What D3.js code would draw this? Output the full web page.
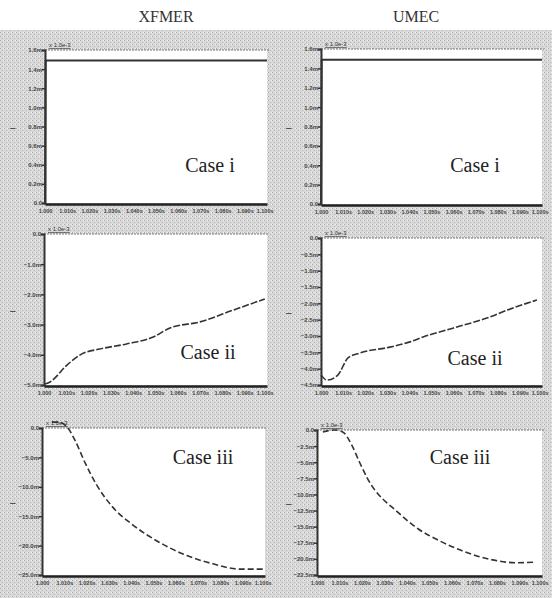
<!DOCTYPE html>
<html><head><meta charset="utf-8">
<script src="https://cdn.jsdelivr.net/npm/d3@7"></script>
<style>
html,body{margin:0;padding:0;background:#fff;}
svg{display:block;}
</style></head>
<body>
<svg id="chart" width="552" height="598"></svg>
<script>
// ---- data ----
const columnTitles = ["XFMER", "UMEC"];
const caseLabels = ["Case i", "Case ii", "Case iii"];
const timeTicks = [1.000, 1.010, 1.020, 1.030, 1.040, 1.050, 1.060, 1.070, 1.080, 1.090, 1.100];
const timeTickLabels = ["1.000", "1.010s", "1.020s", "1.030s", "1.040s", "1.050s", "1.060s", "1.070s", "1.080s", "1.090s", "1.100s"];

// Case i (units: m)
const caseI_xfmer_t = [1.0000, 1.0003, 1.0500, 1.1000];
const caseI_xfmer_v = [0.0, 1.49, 1.49, 1.49];
const caseI_umec_t = [1.0000, 1.0003, 1.0500, 1.1000];
const caseI_umec_v = [0.0, 1.49, 1.49, 1.49];
const caseI_xfmer_ticks = [0.0, 0.2, 0.4, 0.6, 0.8, 1.0, 1.2, 1.4, 1.6];
const caseI_umec_ticks = [0.0, 0.2, 0.4, 0.6, 0.8, 1.0, 1.2, 1.4, 1.6];

// Case ii
const caseII_xfmer_t = [1.0005, 1.0027, 1.0103, 1.0170, 1.0250, 1.0370, 1.0490, 1.0565, 1.0700, 1.0848, 1.0990];
const caseII_xfmer_v = [-4.97, -4.90, -4.34, -3.97, -3.81, -3.64, -3.41, -3.11, -2.91, -2.52, -2.15];
const caseII_umec_t = [1.0000, 1.0027, 1.0077, 1.0122, 1.0176, 1.0312, 1.0403, 1.0462, 1.0597, 1.0751, 1.0869, 1.0977];
const caseII_umec_v = [-4.19, -4.35, -4.19, -3.67, -3.52, -3.34, -3.18, -3.03, -2.76, -2.45, -2.14, -1.90];
const caseII_xfmer_ticks = [0.0, -1.0, -2.0, -3.0, -4.0, -5.0];
const caseII_umec_ticks = [0.0, -0.5, -1.0, -1.5, -2.0, -2.5, -3.0, -3.5, -4.0, -4.5];

// Case iii
const caseIII_xfmer_t = [1.0045, 1.0072, 1.0112, 1.0148, 1.0193, 1.0247, 1.0318, 1.0408, 1.0529, 1.0650, 1.0767, 1.0888, 1.0991];
const caseIII_xfmer_v = [1.0, 1.0, 0.2, -2.1, -5.9, -9.8, -13.5, -16.5, -19.5, -21.7, -23.1, -24.0, -24.0];
const caseIII_umec_t = [1.0026, 1.0079, 1.0114, 1.0154, 1.0189, 1.0224, 1.0364, 1.0452, 1.0539, 1.0658, 1.0772, 1.0890, 1.0969];
const caseIII_umec_v = [-0.3, 0.0, -0.3, -2.3, -5.0, -7.5, -12.9, -15.4, -17.1, -18.9, -20.1, -20.6, -20.5];
const caseIII_xfmer_ticks = [0.0, -5.0, -10.0, -15.0, -20.0, -25.0];
const caseIII_umec_ticks = [0.0, -2.5, -5.0, -7.5, -10.0, -12.5, -15.0, -17.5, -20.0, -22.5];

const scaleNote = "x 1.0e-3";

// ---- layout ----
const panels = [
  {row:0, col:0, t:caseI_xfmer_t, v:caseI_xfmer_v, ticks:caseI_xfmer_ticks, box:[45,50,267,203], label:[210,165], dash:null},
  {row:0, col:1, t:caseI_umec_t, v:caseI_umec_v, ticks:caseI_umec_ticks, box:[321,49,542,204], label:[475,165], dash:null},
  {row:1, col:0, t:caseII_xfmer_t, v:caseII_xfmer_v, ticks:caseII_xfmer_ticks, box:[44,234,267,385], label:[208,352], dash:"7,2"},
  {row:1, col:1, t:caseII_umec_t, v:caseII_umec_v, ticks:caseII_umec_ticks, box:[321,238,542,385], label:[475,358], dash:"7,2"},
  {row:2, col:0, t:caseIII_xfmer_t, v:caseIII_xfmer_v, ticks:caseIII_xfmer_ticks, box:[42,428,265,575], label:[203,457], dash:"6,3"},
  {row:2, col:1, t:caseIII_umec_t, v:caseIII_umec_v, ticks:caseIII_umec_ticks, box:[317,430,542,575], label:[460,457], dash:"6,3"}
];

const svg = d3.select("#chart");
const defs = svg.append("defs");
const pat = defs.append("pattern").attr("id","stip").attr("width",4).attr("height",4).attr("patternUnits","userSpaceOnUse");
pat.append("rect").attr("width",4).attr("height",4).attr("fill","#d9d9d9");
pat.append("rect").attr("x",0).attr("y",0).attr("width",1).attr("height",1).attr("fill","#acacac");
pat.append("rect").attr("x",2).attr("y",2).attr("width",1).attr("height",1).attr("fill","#b8b8b8");
pat.append("rect").attr("x",3).attr("y",0).attr("width",1).attr("height",1).attr("fill","#f0f0f0");

svg.append("rect").attr("x",0).attr("y",30).attr("width",552).attr("height",568).attr("fill","url(#stip)");

// column titles
svg.selectAll("text.coltitle").data(columnTitles).join("text")
  .attr("class","coltitle")
  .attr("x",(d,i)=> i===0 ? 166 : 416)
  .attr("y",22)
  .attr("text-anchor","middle")
  .attr("font-family","'Liberation Serif', 'DejaVu Serif', serif")
  .attr("font-size",16)
  .attr("fill","#333")
  .text(d=>d);

panels.forEach(p=>{
  const [x0,y0,x1,y1] = p.box;
  const x = d3.scaleLinear().domain([1.000,1.100]).range([x0,x1]);
  const ymax = d3.max(p.ticks), ymin = d3.min(p.ticks);
  const y = d3.scaleLinear().domain([ymin,ymax]).range([y1,y0]);
  const g = svg.append("g");

  g.append("rect").attr("x",x0).attr("y",y0).attr("width",x1-x0).attr("height",y1-y0).attr("fill","#fff");
  g.append("line").attr("x1",x0).attr("x2",x1+2).attr("y1",y0).attr("y2",y0)
    .attr("stroke","#777").attr("stroke-width",1).attr("stroke-dasharray","2,1");

  // y axis
  const yAxis = d3.axisLeft(y).tickValues(p.ticks).tickSize(3)
    .tickFormat(d=> d===0 ? "0.0" : d3.format(".1f")(d)+"m");
  const ya = g.append("g").attr("transform",`translate(${x0},0)`).call(yAxis);
  ya.select(".domain").attr("stroke","#333").attr("stroke-width",2);
  ya.selectAll(".tick line").attr("stroke","#333").attr("stroke-width",1.5);
  ya.selectAll(".tick text").attr("font-family","'Liberation Sans', Arial, sans-serif")
    .attr("font-size",6).attr("font-weight","bold").attr("fill","#444").attr("x",-3);

  // x axis
  const xAxis = d3.axisBottom(x).tickValues(timeTicks).tickSize(0)
    .tickFormat((d,i)=> timeTickLabels[i]);
  const xa = g.append("g").attr("transform",`translate(0,${y1+1})`).call(xAxis);
  xa.select(".domain").attr("stroke","#222").attr("stroke-width",2.5);
  xa.selectAll(".tick text").attr("font-family","'Liberation Sans', Arial, sans-serif")
    .attr("font-size",5.5).attr("font-weight","bold").attr("fill","#444").attr("dy","1.1em")
    .attr("text-anchor",(d,i)=> i===timeTicks.length-1 ? "end" : "middle")
    .attr("dx",(d,i)=> i===timeTicks.length-1 ? "6" : "0");

  // scale note
  g.append("text").attr("x",x0+4).attr("y",y0-3)
    .attr("font-family","'Liberation Sans', Arial, sans-serif").attr("font-size",6)
    .attr("fill","#333").attr("text-decoration","underline").text(scaleNote);

  // side dash
  g.append("text").attr("x", p.col===0 ? 10 : 286).attr("y",(y0+y1)/2+4)
    .attr("font-family","'Liberation Sans', Arial, sans-serif").attr("font-size",10)
    .attr("fill","#333").text("–");

  // curve
  const pts = p.t.map((t,i)=>[t,p.v[i]]);
  const line = d3.line().x(d=>x(d[0])).y(d=>y(d[1])).curve(p.dash ? d3.curveMonotoneX : d3.curveLinear);
  g.append("path").datum(pts).attr("d",line).attr("fill","none")
    .attr("stroke","#333").attr("stroke-width",p.dash?1.6:2)
    .attr("stroke-dasharray",p.dash);

  // case label
  g.append("text").attr("x",p.label[0]).attr("y",p.label[1]+7).attr("text-anchor","middle")
    .attr("font-family","'Liberation Serif', 'DejaVu Serif', serif").attr("font-size",20)
    .attr("fill","#222").text(caseLabels[p.row]);
});
</script>
</body></html>
